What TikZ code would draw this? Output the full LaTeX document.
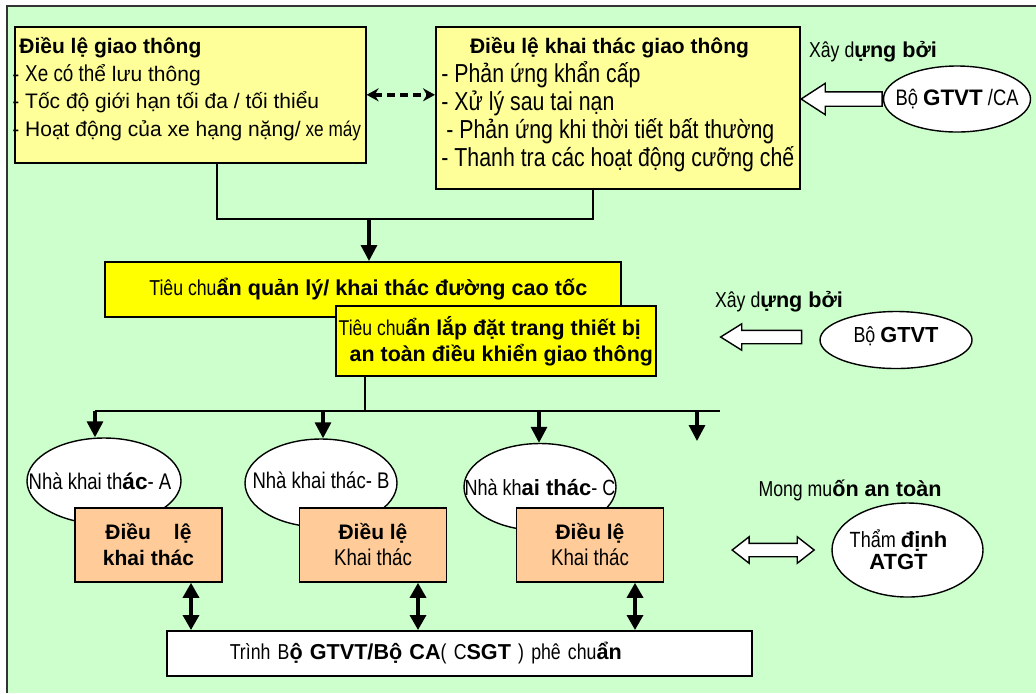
\documentclass[tikz,border=0pt]{standalone}
\usepackage{fontspec}
\setmainfont{Liberation Sans}
\newfontfamily\narr[FakeStretch=0.82]{Liberation Sans}
\usetikzlibrary{positioning,shapes.geometric,shapes.arrows,arrows.meta}
\definecolor{bggreen}{HTML}{CCFFCC}
\definecolor{paleyel}{HTML}{FFFF99}
\definecolor{brightyel}{HTML}{FFFF00}
\definecolor{peach}{HTML}{FFCC99}

\begin{document}
\begin{tikzpicture}[x=0.5pt,y=-0.5pt,
every node/.style={font=\fontsize{10.8}{13.5}\selectfont},
lawbox/.style={
  draw,
  line width=0.8pt,
  fill=paleyel,
  anchor=north west,
  inner sep=0pt
},
stdbox/.style={
  draw,
  line width=0.8pt,
  fill=brightyel,
  anchor=north west,
  inner sep=0pt
},
opbox/.style={
  draw,
  line width=0.8pt,
  fill=peach,
  minimum width=73.5pt,
  minimum height=37pt,
  align=center,
  font=\bfseries\fontsize{10.5}{13}\selectfont
},
opell/.style={
  draw,
  ellipse,
  line width=0.7pt,
  fill=white,
  inner sep=0pt
},
link/.style={line width=0.7pt},
feed/.style={
  line width=1.6pt,
  -{Triangle[width=8pt,length=8pt]}
},
twoway/.style={
  line width=1.7pt,
  {Triangle[width=8pt,length=7.5pt]}-{Triangle[width=8pt,length=7.5pt]}
},
dashlink/.style={
  line width=1.8pt,
  dash pattern=on 4pt off 2.5pt,
  {Stealth[width=6.5pt,length=6pt]}-{Stealth[width=6.5pt,length=6pt]}
},
hollow/.style={
  draw,
  single arrow,
  shape border rotate=180,
  line width=0.7pt,
  fill=white,
  inner xsep=0pt,
  inner ysep=3pt,
  minimum width=0pt,
  minimum height=40.5pt,
  single arrow head extend=3.25pt,
  single arrow tip angle=64
},
twin/.style={
  draw,
  double arrow,
  line width=0.7pt,
  fill=white,
  inner xsep=0pt,
  inner ysep=3pt,
  minimum width=0pt,
  minimum height=41pt,
  double arrow head extend=3.25pt,
  double arrow tip angle=76
}
]
\useasboundingbox (0,0) rectangle (1036,693);
\fill[bggreen] (7,6) rectangle (1036,693);
\draw[line width=1.1pt, black!80] (7,693) -- (7,6) -- (1036,6);

% rules at the top
\node[lawbox, minimum width=175.5pt, minimum height=68pt] (dlgt) at (14,26) {};
\node[anchor=north west, align=left, inner sep=0pt, font=\fontsize{10.5}{13.75}\selectfont] (dlgt-txt) at (12,37)
  {\hspace*{3.5pt}\textbf{Điều lệ giao thông}\\
   - {\narr\fontsize{11.5}{13.75}\selectfont Xe có th}ể lưu thông\\
   - Tốc độ giới hạn tối đa / tối thiểu\\
   - Hoạt động của xe hạng nặng/{\narr\ xe máy}};

\node[lawbox, minimum width=182pt, minimum height=81pt] (dlkt) at (435,26) {};
\node[font=\bfseries\fontsize{10.5}{13}\selectfont] (dlkt-title) at (609.5,48) {Điều lệ khai thác giao thông};
\node[anchor=north west, align=left, inner sep=0pt, font=\narr\fontsize{13}{14}\selectfont] (dlkt-list) at (441,61)
  {- Phản ứng khẩn cấp\\
   - Xử lý sau tai nạn\\
   \hspace*{2.5pt}- Phản ứng khi thời tiết bất thường\\
   - Thanh tra các hoạt động cưỡng chế};

\draw[dashlink] (dlgt.east) -- (dlgt.east -| dlkt.west);

\node (xd1) at (873,52) {{\narr Xây d}\textbf{ựng bởi}};
\node[opell, minimum width=73.5pt, minimum height=33pt,
  label={[font=\fontsize{11.2}{13}\selectfont]center:{{\narr Bộ }\textbf{GTVT}{\narr\ /CA}}}] (bgca) at (957,99) {};
\node[hollow, anchor=tail, inner ysep=3.25pt, single arrow head extend=4.25pt, single arrow tip angle=66] (arrca) at (bgca.west) {};

\coordinate (jl) at (217,219);
\coordinate (jr) at (593,219);
\coordinate (jm) at (369,219);
\draw[link] (dlgt.south -| jl) |- (jr) -- (dlkt.south -| jr);

% standards
\node[stdbox, minimum width=258pt, minimum height=27.5pt] (tcql) at (104,261)
  {\hspace*{5.5pt}\raisebox{2.5pt}{{\narr Tiêu chu}\textbf{ẩn quản lý/ khai thác đường cao tốc}}};
\draw[feed] (jm) -- (tcql.north -| jm);

\node[stdbox, minimum width=160pt, minimum height=35pt, align=left, font=\fontsize{10.7}{13}\selectfont] (tcld) at (335,305)
  {{\narr Tiêu chu}\textbf{ẩn lắp đặt trang thiết bị}\\
   \hspace*{5.5pt}\textbf{an toàn điều khiển giao thông}};

\node (xd2) at (779,302) {{\narr Xây d}\textbf{ựng bởi}};
\node[opell, minimum width=76pt, minimum height=28.5pt,
  label={[font=\fontsize{10.9}{13}\selectfont, yshift=2pt]center:{{\narr Bộ }\textbf{GTVT}}}] (bgtvt) at (896,340) {};
\node[hollow, anchor=tail] (arrgt) at ([xshift=-8.5pt,yshift=1.5pt]bgtvt.west) {};

% operators
\coordinate (hub) at (365,411);
\coordinate (drA) at (95,411);
\coordinate (drB) at (323,411);
\coordinate (drC) at (539,411);
\coordinate (drD) at (697,411);
\coordinate (busR) at (720,411);
\coordinate (endD) at (697,441);
\draw[link] (tcld.south -| hub) -- (hub);
\draw[link] (drA) -- (busR);

\node[opell, minimum width=77pt, minimum height=43pt,
  label={[font=\fontsize{11.3}{13}\selectfont, xshift=-2pt]center:{{\narr Nhà khai th}\textbf{ác}{\narr - A}}}] (nkA) at (104,481) {};
\node[opell, minimum width=76pt, minimum height=44pt,
  label={[font=\narr\fontsize{11.3}{13}\selectfont, yshift=1.5pt]center:{Nhà khai thác- B}}] (nkB) at (321,483) {};
\node[opell, minimum width=76pt, minimum height=43.5pt,
  label={[font=\fontsize{11}{13}\selectfont]center:{{\narr Nhà kh}\textbf{ai thác}{\narr - C}}}] (nkC) at (540,487) {};

\foreach \k in {A,B,C}
  \draw[feed] (dr\k) -- (nk\k.north -| dr\k);
\draw[feed] (drD) -- (endD);

\node[opbox] (dlA) at (148.5,545) {Điều\hspace{11.5pt}lệ\\khai thác};
\node[opbox] (dlB) at (373,545) {Điều lệ\\{\mdseries\narr\fontsize{11.4}{13}\selectfont Khai thác}};
\node[opbox] (dlC) at (590,545) {Điều lệ\\{\mdseries\narr\fontsize{11.4}{13}\selectfont Khai thác}};

% approval
\node[draw, fill=white, line width=0.8pt, anchor=north west, minimum height=22.5pt,
  inner xsep=31.5pt, text width=229.5pt, align=left] (trinh) at (166,630)
  {{\narr Trình B}\textbf{ộ GTVT/Bộ CA}{\narr( C}\textbf{SGT}{\narr\ ) phê chu}\textbf{ẩn}};

\coordinate (upA) at (191,630);
\coordinate (upB) at (418,630);
\coordinate (upC) at (635,630);
\foreach \k in {A,B,C}
  \draw[twoway] (up\k) -- (dl\k.south -| up\k);

% safety audit
\node (mmat) at (850,490) {{\narr Mong mu}\textbf{ốn an toàn}};
\node[opell, minimum width=75.5pt, minimum height=47pt,
  label={[font=\fontsize{11}{11}\selectfont, align=center, xshift=-4.5pt]center:{{\narr Thẩm }\textbf{định}\\\textbf{ATGT}}}] (tdat) at (907.5,550) {};
\node[twin, left=8pt of tdat] (arrmm) {};
\end{tikzpicture}
\end{document}
